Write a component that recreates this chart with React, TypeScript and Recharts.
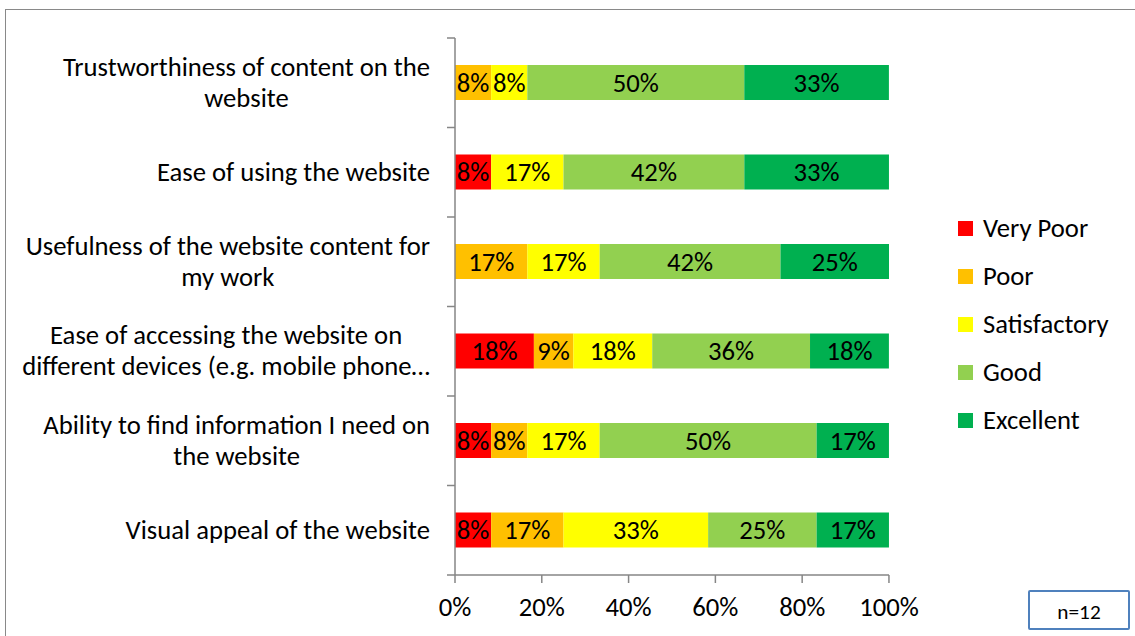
import React from 'react';
import { BarChart, Bar, XAxis, YAxis, LabelList } from 'recharts';

const categories = [
  'Trustworthiness of content on the website',
  'Ease of using the website',
  'Usefulness of the website content for my work',
  'Ease of accessing the website on different devices (e.g. mobile phone…',
  'Ability to find information I need on the website',
  'Visual appeal of the website',
];
const categoryLines = [
  ['Trustworthiness of content on the', 'website'],
  ['Ease of using the website'],
  ['Usefulness of the website content for', 'my work'],
  ['Ease of accessing the website on', 'different devices (e.g. mobile phone…'],
  ['Ability to find information I need on', 'the website'],
  ['Visual appeal of the website'],
];
const veryPoor = [0, 8.33, 0, 18.18, 8.33, 8.33];
const poor = [8.33, 0, 16.67, 9.09, 8.33, 16.67];
const satisfactory = [8.33, 16.67, 16.67, 18.18, 16.67, 33.33];
const good = [50, 41.67, 41.67, 36.36, 50, 25];
const excellent = [33.33, 33.33, 25, 18.18, 16.67, 16.67];
const xTicks = [0, 20, 40, 60, 80, 100];

const seriesNames = ['Very Poor', 'Poor', 'Satisfactory', 'Good', 'Excellent'];
const seriesKeys = ['vp', 'p', 's', 'g', 'e'];
const seriesColors = ['#FF0000', '#FFC000', '#FFFF00', '#92D050', '#00B050'];

const data = categories.map((name, i) => ({
  name,
  vp: veryPoor[i] || null,
  p: poor[i] || null,
  s: satisfactory[i] || null,
  g: good[i] || null,
  e: excellent[i] || null,
}));

const FONT = 'Carlito, Calibri, Lato, "Open Sans", sans-serif';
const FS = 26.67;
const AXIS = '#868686';
const W = 1135;
const H = 636;
const M = { top: 38, right: 246, bottom: 11, left: 0 };
const Y_W = 455;
const X_H = 50;
const PLOT_TOP = M.top;
const PLOT_BOTTOM = H - M.bottom - X_H;
const BAND = (PLOT_BOTTOM - PLOT_TOP) / categories.length;

const YTick = (props: any) => {
  const { y, payload, index } = props;
  const i = payload.index ?? index;
  const lines = categoryLines[i] || [String(payload.value)];
  const ax = M.left + Y_W;
  return (
    <g>
      {i === 0 && (
        <line x1={ax - 8} x2={ax} y1={y - BAND / 2} y2={y - BAND / 2} stroke={AXIS} strokeWidth={1.5} />
      )}
      <line x1={ax - 8} x2={ax} y1={y + BAND / 2} y2={y + BAND / 2} stroke={AXIS} strokeWidth={1.5} />
      <foreignObject x={0} y={y - 45} width={ax - 25} height={90}>
        <div
          style={{
            width: '100%',
            height: '100%',
            display: 'flex',
            justifyContent: 'flex-end',
            alignItems: 'center',
          }}
        >
          <div
            style={{
              textAlign: 'center',
              fontFamily: FONT,
              fontSize: FS,
              lineHeight: '31px',
              color: '#000',
              whiteSpace: 'nowrap',
            }}
          >
            {lines.map((l: string, k: number) => (
              <div key={k}>{l}</div>
            ))}
          </div>
        </div>
      </foreignObject>
    </g>
  );
};

const fmt = (v: any) => (v ? `${Math.round(Number(v))}%` : '');

export default function App() {
  return (
    <div
      style={{
        position: 'fixed',
        left: 0,
        top: 0,
        width: W,
        height: H,
        overflow: 'hidden',
        background: '#fff',
      }}
    >
      <div
        style={{
          position: 'absolute',
          left: 5,
          top: 9,
          width: 1300,
          height: 800,
          border: '1.5px solid #898989',
        }}
      />
      <div style={{ position: 'absolute', left: 0, top: 0 }}>
        <BarChart width={W} height={H} layout="vertical" data={data} margin={M} barSize={35}>
          <XAxis
            type="number"
            domain={[0, 100]}
            ticks={xTicks}
            tickFormatter={(v) => `${v}%`}
            height={X_H}
            axisLine={{ stroke: AXIS, strokeWidth: 1.5 }}
            tickLine={{ stroke: AXIS, strokeWidth: 1.5 }}
            tickSize={8}
            tickMargin={14}
            tick={{ fill: '#000', fontSize: FS, fontFamily: FONT }}
            interval={0}
          />
          <YAxis
            type="category"
            dataKey="name"
            width={Y_W}
            tick={<YTick />}
            tickLine={false}
            axisLine={{ stroke: AXIS, strokeWidth: 1.5 }}
            interval={0}
          />
          {seriesKeys.map((k, i) => (
            <Bar key={k} dataKey={k} name={seriesNames[i]} stackId="a" fill={seriesColors[i]} isAnimationActive={false}>
              <LabelList
                dataKey={k}
                position="center"
                formatter={fmt}
                fill="#000"
                style={{ fontFamily: FONT, fontSize: FS }}
              />
            </Bar>
          ))}
        </BarChart>
      </div>
      <div
        style={{
          position: 'absolute',
          left: 958,
          top: 204,
          fontFamily: FONT,
          fontSize: FS,
          color: '#000',
        }}
      >
        {seriesNames.map((n, i) => (
          <div key={n} style={{ display: 'flex', alignItems: 'center', height: 48 }}>
            <div style={{ width: 15, height: 15, background: seriesColors[i], marginRight: 10 }} />
            <span>{n}</span>
          </div>
        ))}
      </div>
      <div
        style={{
          position: 'absolute',
          left: 1028,
          top: 590,
          width: 98,
          height: 32,
          paddingTop: 4,
          border: '2px solid #4F81BD',
          borderRadius: 2,
          fontFamily: FONT,
          fontSize: 21.3,
          display: 'flex',
          alignItems: 'center',
          justifyContent: 'center',
          color: '#000',
        }}
      >
        n=12
      </div>
    </div>
  );
}
